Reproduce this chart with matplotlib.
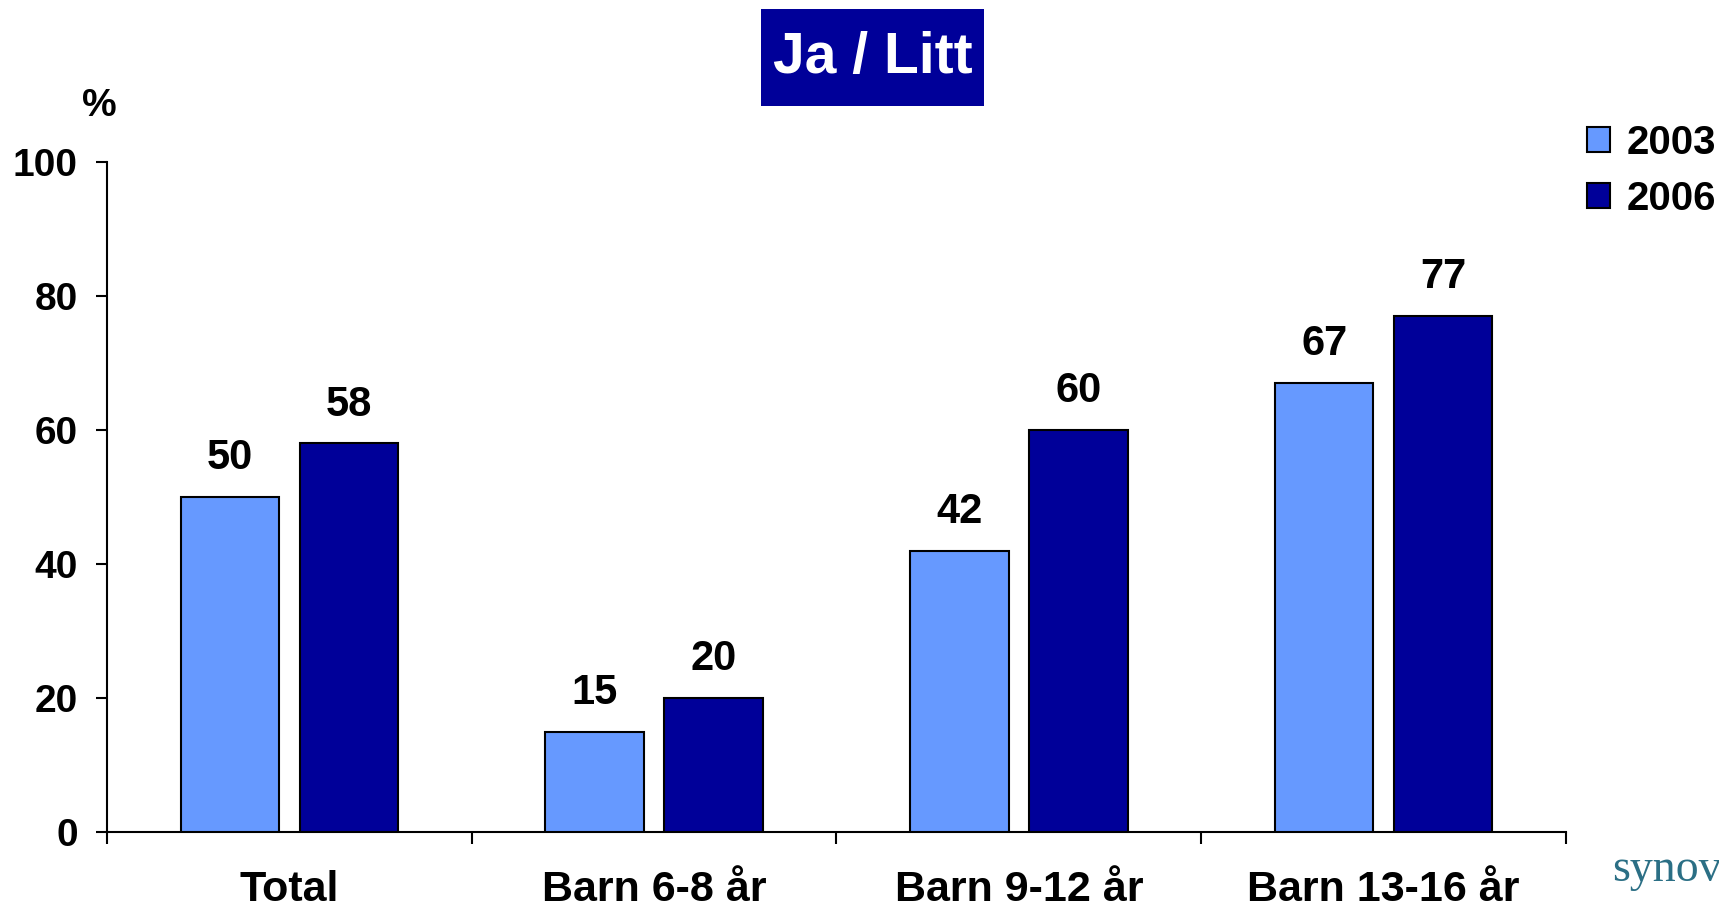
import numpy as np
import matplotlib.pyplot as plt
from matplotlib.patches import Rectangle

plt.rcParams['font.family'] = ['Liberation Sans', 'DejaVu Sans']
plt.rcParams['font.weight'] = 'bold'

# data
categories = ['Total', 'Barn 6-8 år', 'Barn 9-12 år', 'Barn 13-16 år']
series_names = ['2003', '2006']
vals_2003 = [50, 15, 42, 67]
vals_2006 = [58, 20, 60, 77]
colors = ['#6699FF', '#000099']

fig = plt.figure(figsize=(17.19, 9.09), dpi=100)
ax = fig.add_axes([0.0622, 0.0847, 0.8488, 0.7371])

x = np.arange(len(categories))
w = 0.27
off = 0.163
for i, (vals, name) in enumerate(zip([vals_2003, vals_2006], series_names)):
    xs = x + (-off if i == 0 else off)
    bars = ax.bar(xs, vals, width=w, color=colors[i], edgecolor='black',
                  linewidth=1.5, label=name, zorder=3)
    for xi, v in zip(xs, vals):
        ax.annotate(str(v), (xi, v), xytext=(0, 20), textcoords='offset points',
                    ha='center', va='baseline', fontsize=30, fontweight='bold')

ax.set_xlim(-0.5, 3.5)
ax.set_ylim(0, 100)
ax.set_yticks([0, 20, 40, 60, 80, 100])
ax.tick_params(axis='y', labelsize=28, length=8, width=1.5, pad=13)
ax.set_xticks(x)
ax.set_xticklabels(categories)
ax.set_xticks(np.arange(-0.5, 4, 1), minor=True)
ax.tick_params(axis='x', which='major', length=0, labelsize=31, pad=27)
ax.tick_params(axis='x', which='minor', length=8.5, width=1.5)
for lbl in ax.get_xticklabels() + ax.get_yticklabels():
    lbl.set_fontweight('bold')

ax.spines['top'].set_visible(False)
ax.spines['right'].set_visible(False)
ax.spines['left'].set_linewidth(1.5)
ax.spines['bottom'].set_linewidth(1.5)

# title box
fig.patches.append(Rectangle((0.4427, 0.8834), 0.1297, 0.1067,
                             transform=fig.transFigure, facecolor='#000099',
                             edgecolor='none', zorder=0))
fig.text(0.5076, 0.9367, 'Ja / Litt', ha='center', va='center',
         fontsize=41, fontweight='bold', color='white')

fig.text(0.0576, 0.883, '%', ha='center', va='center', fontsize=28,
         fontweight='bold')

leg = fig.legend(loc='upper left', bbox_to_anchor=(0.9235, 0.864),
                 frameon=False, fontsize=29, handlelength=0.56,
                 handleheight=0.56, handletextpad=0.4, labelspacing=0.45,
                 borderpad=0, borderaxespad=0)
for t in leg.get_texts():
    t.set_fontweight('bold')

fig.text(1612 / 1719, 1 - 881 / 909, 'synov', ha='left', va='baseline',
         fontsize=33, family='Liberation Serif', fontweight='normal',
         color='#2b6f85')

fig.savefig('out.png', dpi=100)
